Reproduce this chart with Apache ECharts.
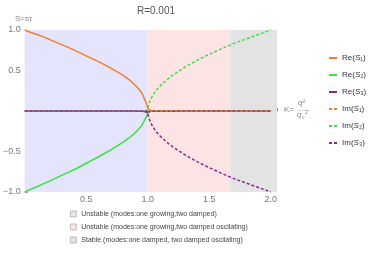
<!DOCTYPE html>
<html>
<head>
<meta charset="utf-8">
<script src="https://cdn.jsdelivr.net/npm/echarts@6/dist/echarts.min.js"></script>
<style>html,body{margin:0;padding:0;background:#fff;}#c{width:368px;height:254px;}</style>
</head>
<body>
<div id="c"></div>
<script>
// ---- data ----
const kValues = [0, 0.05, 0.1, 0.15, 0.2, 0.3, 0.4, 0.5, 0.6, 0.7, 0.8, 0.85, 0.9, 0.93, 0.95, 0.97, 0.98, 0.99, 0.995, 1.0,
  1.005, 1.01, 1.02, 1.03, 1.05, 1.07, 1.1, 1.15, 1.2, 1.3, 1.4, 1.5, 1.6, 1.7, 1.8, 1.9, 2.0];
const reS1 = [1.0, 0.97, 0.945, 0.915, 0.885, 0.82, 0.755, 0.68, 0.61, 0.53, 0.44, 0.385, 0.315, 0.265, 0.225, 0.16, 0.12, 0.085, 0.06, 0.04,
  0.02, 0.012, 0.007, 0.005, 0.004, 0.003, 0.003, 0.002, 0.002, 0.002, 0.001, 0.001, 0.0005, -0.0002, -0.0005, -0.0008, -0.001];
const reS2 = [-1.0, -0.965, -0.935, -0.9, -0.865, -0.795, -0.725, -0.645, -0.565, -0.48, -0.385, -0.33, -0.265, -0.215, -0.18, -0.125, -0.095, -0.06, -0.045, -0.03,
  -0.012, -0.006, -0.004, -0.003, -0.002, -0.002, -0.002, -0.002, -0.002, -0.001, -0.001, -0.001, -0.001, -0.001, -0.001, -0.001, -0.001];
const reS3 = [-0.001, -0.001, -0.001, -0.001, -0.001, -0.001, -0.001, -0.001, -0.001, -0.001, -0.001, -0.001, -0.001, -0.002, -0.003, -0.006, -0.009, -0.016, -0.022, -0.03,
  -0.012, -0.006, -0.004, -0.003, -0.002, -0.002, -0.002, -0.002, -0.002, -0.001, -0.001, -0.001, -0.001, -0.001, -0.001, -0.001, -0.001];
const imS1 = [0, 0, 0, 0, 0, 0, 0, 0, 0, 0, 0, 0, 0, 0, 0, 0, 0, 0, 0, 0,
  0, 0, 0, 0, 0, 0, 0, 0, 0, 0, 0, 0, 0, 0, 0, 0, 0];
const imS2 = [0, 0, 0, 0, 0, 0, 0, 0, 0, 0, 0, 0, 0, 0, 0, 0, 0, 0, 0, 0,
  0.06, 0.09, 0.135, 0.165, 0.215, 0.26, 0.31, 0.38, 0.44, 0.54, 0.625, 0.70, 0.77, 0.835, 0.89, 0.945, 1.0];
const imS3 = [0, 0, 0, 0, 0, 0, 0, 0, 0, 0, 0, 0, 0, 0, 0, 0, 0, 0, 0, 0,
  -0.06, -0.09, -0.135, -0.165, -0.215, -0.26, -0.31, -0.38, -0.44, -0.54, -0.625, -0.70, -0.77, -0.835, -0.89, -0.945, -1.0];
const seriesNames = ['Re(S1)', 'Re(S2)', 'Re(S3)', 'Im(S1)', 'Im(S2)', 'Im(S3)'];
const regionNames = ['Unstable (modes:one growing,two damped)',
  'Unstable (modes:one growing,two damped oscilating)',
  'Stable (modes:one damped, two damped oscilating)'];
const regionBounds = [[0, 1.0], [1.0, 1.67], [1.67, 2.05]];
const xTicks = [0.5, 1.0, 1.5, 2.0];
const yTicks = [-1.0, -0.5, 0.5, 1.0];

// ---- styles ----
const cOrange = '#EE7F2D', cGreen = '#3DE03D', cPurple = '#8E2A8E';
const regionColors = ['#E4E4FC', '#FDE4E4', '#E3E3E3'];
const font = 'Liberation Sans, Arial, sans-serif';
const solidIcon = 'path://M0,0H8V2H0Z';
const dashIcon = 'path://M0,0H3V2H0Z M5,0H8V2H5Z';

function pairs(arr) { return kValues.map((k, i) => [k, arr[i]]); }
const seriesArrays = [reS1, reS2, reS3, imS1, imS2, imS3];
const seriesColors = [cOrange, cGreen, cPurple, cOrange, cGreen, cPurple];

const series = [];
regionNames.forEach((n, i) => {
  series.push({
    name: n, type: 'line', data: [], color: regionColors[i],
    itemStyle: { color: regionColors[i], borderColor: '#999', borderWidth: 0.6 },
    silent: true,
    markArea: {
      silent: true,
      itemStyle: { color: regionColors[i] },
      data: [[{ xAxis: regionBounds[i][0] }, { xAxis: regionBounds[i][1] }]]
    }
  });
});
seriesNames.forEach((n, i) => {
  series.push({
    name: n, type: 'line', data: pairs(seriesArrays[i]),
    symbol: 'none', color: seriesColors[i],
    lineStyle: { width: 1.5, color: seriesColors[i], type: i >= 3 ? [3, 2] : 'solid' },
    z: 3 + i, silent: true
  });
});

const subs = { '1': '₁', '2': '₂', '3': '₃' };
const chart = echarts.init(document.getElementById('c'), null, { renderer: 'canvas' });
chart.setOption({
  animation: false,
  textStyle: { fontFamily: font },
  title: {
    text: 'R=0.001', left: 151, top: 1, textAlign: 'center',
    textStyle: { fontSize: 10, fontWeight: 'normal', color: '#555', fontFamily: font }
  },
  grid: { left: 21, right: 91, top: 30, bottom: 62, containLabel: false },
  xAxis: {
    type: 'value', min: 0, max: 2.05, interval: 0.5,
    axisLine: { onZero: true, lineStyle: { color: '#bbb', width: 1 } },
    axisTick: { inside: true, length: 3, lineStyle: { color: '#888' } },
    minorTick: { show: true, splitNumber: 5, length: 2, lineStyle: { color: '#999' } },
    splitLine: { show: false },
    axisLabel: {
      margin: 3, fontSize: 9, color: '#777', fontFamily: font,
      formatter: v => (xTicks.some(t => Math.abs(t - v) < 1e-9) ? v.toFixed(1) : '')
    }
  },
  yAxis: {
    type: 'value', min: -1, max: 1, interval: 0.5,
    axisLine: { lineStyle: { color: '#ccc', width: 1 } },
    axisTick: { inside: true, length: 3, lineStyle: { color: '#999' } },
    minorTick: { show: true, splitNumber: 5, length: 2, lineStyle: { color: '#bbb' } },
    splitLine: { show: false },
    axisLabel: {
      margin: 4, fontSize: 9, color: '#777', fontFamily: font,
      formatter: v => (yTicks.some(t => Math.abs(t - v) < 1e-9) ? v.toFixed(1).replace('-', '−') : '')
    }
  },
  legend: [
    {
      data: seriesNames.map((n, i) => ({ name: n, icon: i >= 3 ? dashIcon : solidIcon })),
      orient: 'vertical', left: 324, top: 48,
      itemWidth: 8, itemHeight: 2, itemGap: 7,
      formatter: n => '{r|' + n.slice(0, 3) + '}{i|S}{r|' + subs[n[4]] + ')}',
      textStyle: {
        fontSize: 8, color: '#333', lineHeight: 10,
        rich: {
          r: { fontSize: 8, color: '#333', fontFamily: font },
          i: { fontSize: 8, color: '#333', fontStyle: 'italic', fontFamily: font }
        }
      },
      selectedMode: false
    },
    {
      data: regionNames.map((n, i) => ({
        name: n, icon: 'rect',
        itemStyle: { color: regionColors[i], borderColor: '#999', borderWidth: 0.6 }
      })),
      orient: 'vertical', left: 65, top: 205,
      itemWidth: 6, itemHeight: 6, itemGap: 5,
      textStyle: { fontSize: 7, color: '#444', lineHeight: 8, fontFamily: font },
      selectedMode: false
    }
  ],
  graphic: [
    { type: 'text', left: 15, top: 15, style: { text: 'S=sτ', fill: '#888', font: '8px ' + font } },
    { type: 'text', left: 284, top: 106, style: { text: 'K=', fill: '#888', font: '8px ' + font } },
    { type: 'text', left: 298, top: 99, style: { text: 'q²', fill: '#888', font: 'italic 8px ' + font } },
    { type: 'line', shape: { x1: 297, y1: 110.5, x2: 310, y2: 110.5 }, style: { stroke: '#bbb', lineWidth: 0.6 } },
    { type: 'text', left: 297, top: 111, style: { text: 'q', fill: '#888', font: 'italic 8px ' + font } },
    { type: 'text', left: 302, top: 115, style: { text: 'c', fill: '#888', font: 'italic 5px ' + font } },
    { type: 'text', left: 305, top: 110, style: { text: '2', fill: '#888', font: '5px ' + font } }
  ],
  series: series
});
</script>
</body>
</html>
